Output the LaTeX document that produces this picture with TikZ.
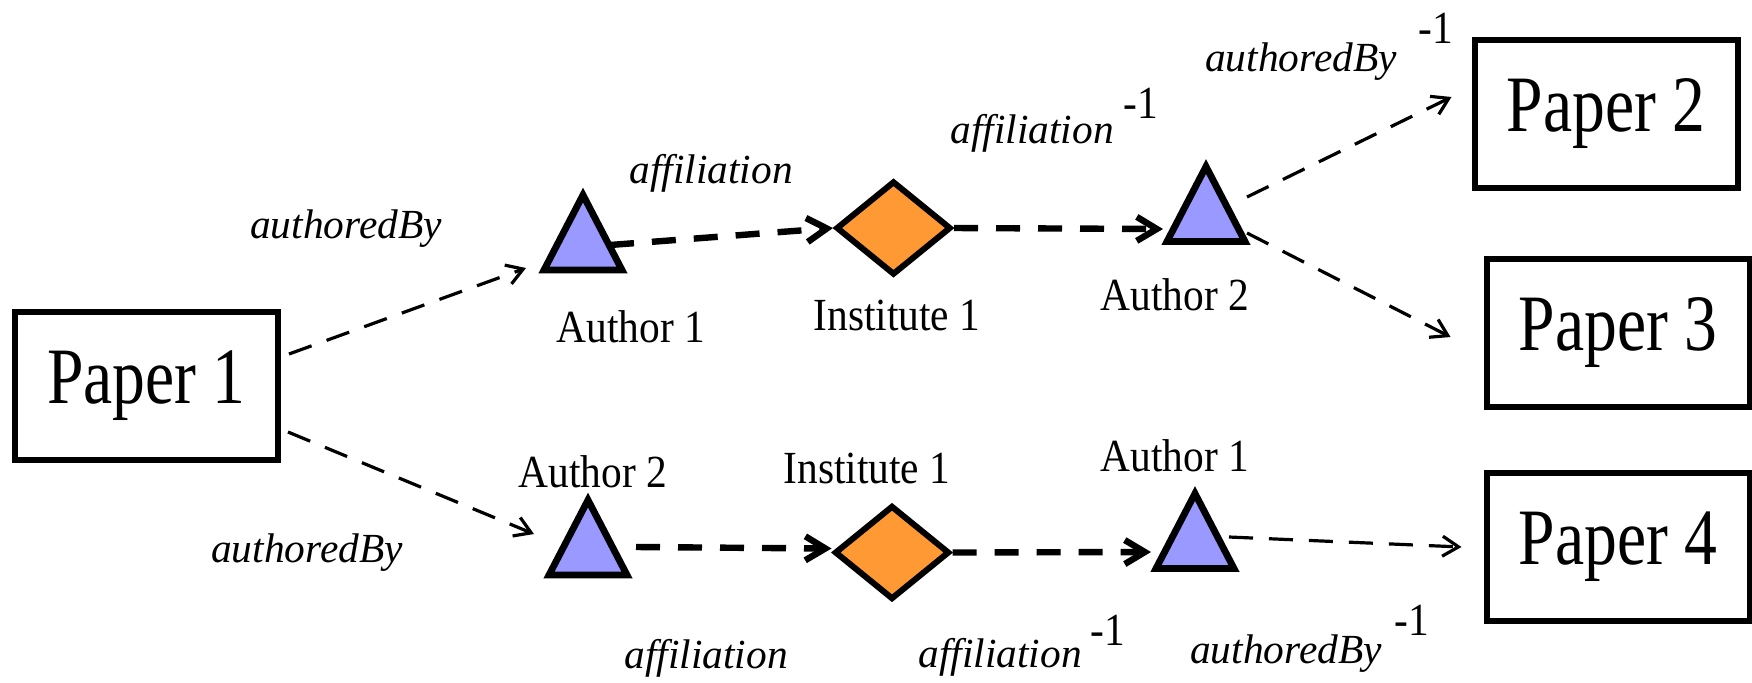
\documentclass[tikz,border=0pt]{standalone}
\usepackage{fontspec}
\setmainfont{Liberation Serif}
\newfontfamily\uprightlabel[FakeStretch=0.9]{Liberation Serif}
\newfontfamily\paperlabel[FakeStretch=0.82]{Liberation Serif}
\usetikzlibrary{shapes.geometric,arrows.meta,calc}

\definecolor{authorblue}{RGB}{153,153,255}
\definecolor{instorange}{RGB}{255,153,51}

\tikzset{
  paperbox/.style={draw, line width=3pt, minimum width=131.5pt, minimum height=74pt,
    inner sep=0pt, font=\paperlabel\fontsize{40}{44}\selectfont},
  institute/.style={diamond, draw, line width=3pt, fill=instorange,
    minimum width=57.5pt, minimum height=47pt, inner sep=0pt},
  authortri/.style={draw, line width=3.4pt, fill=authorblue, line join=miter},
  thinedge/.style={line width=1.6pt, dash pattern=on 12pt off 8pt,
    -{Straight Barb[length=8pt,width=10pt]}},
  thickedge/.style={line width=3.2pt, dash pattern=on 12pt off 9pt,
    -{Straight Barb[length=10pt,width=12pt]}},
  relation/.style={anchor=base, inner sep=0pt, font=\itshape\fontsize{20.7}{24}\selectfont},
  caption/.style={anchor=base, inner sep=0pt, font=\uprightlabel\fontsize{23}{27}\selectfont},
}

% author marker: an upright triangle centred on a named coordinate
\newcommand\authormark[1]{%
  \draw[authortri] ($(#1)+(0,-37.5)$) -- ($(#1)+(39,37.5)$) -- ($(#1)+(-39,37.5)$) -- cycle;}

\begin{document}
\begin{tikzpicture}[x=0.5pt,y=-0.5pt]
  \path[use as bounding box] (0,0) rectangle (1752,682);

  % papers
  \node[paperbox] (p1) at (146.5,385.5) {Paper 1};
  \node[paperbox] (p2) at (1606,114) {Paper 2};
  \node[paperbox] (p3) at (1618,333) {Paper 3};
  \node[paperbox] (p4) at (1618,546.5) {Paper 4};

  % institutes
  \node[institute] (ia) at (893.5,228) {};
  \node[institute] (ib) at (892,552.5) {};

  % author positions
  \coordinate (ta1) at (583,232.5);
  \coordinate (ta2) at (1206,204);
  \coordinate (tb2) at (588,537.5);
  \coordinate (tb1) at (1195,531);

  % upper path
  \draw[thinedge] ($(p1.east)+(8,-31.5)$) -- ($(ta1)+(-57,35.5)$);
  \draw[thickedge] ($(ta1)+(27,12.5)$) -- (ia.west);
  \draw[thickedge] (ia.east) -- ($(ta2)+(-43,25)$);
  \draw[thinedge] ($(ta2)+(41,-7)$) -- ($(p2.west)+(-20,-17)$);
  \draw[thinedge] ($(ta2)+(41,29)$) -- ($(p3.west)+(-33,4)$);

  % lower path
  \draw[thinedge] ($(p1.east)+(7,46.5)$) -- ($(tb2)+(-54,-3.5)$);
  \draw[thickedge] ($(tb2)+(48,9.5)$) -- ($(ib.west)+(0,-4)$);
  \draw[thickedge] (ib.east) -- ($(tb1)+(-44,21)$);
  \draw[thinedge] ($(tb1)+(34,6)$) -- ($(p4.west)+(-22,0.5)$);

  % authors
  \authormark{ta1}
  \authormark{ta2}
  \authormark{tb2}
  \authormark{tb1}

  % labels, upper path
  \node[relation] (r1) at (346,238) {authoredBy};
  \node[caption]  (c1) at (631,342) {Author 1};
  \node[relation] (r2) at (711,183) {affiliation};
  \node[caption]  (c2) at (897,330) {Institute 1};
  \node[relation] (r3) at (1032,143) {affiliation};
  \node[caption]  (s3) at (1141,118) {-1};
  \node[caption]  (c3) at (1175,310) {Author 2};
  \node[relation] (r4) at (1301,71) {authoredBy};
  \node[caption]  (s4) at (1436,43) {-1};

  % labels, lower path
  \node[relation] (r5) at (307,562) {authoredBy};
  \node[caption]  (c4) at (593,487) {Author 2};
  \node[caption]  (c5) at (867,483) {Institute 1};
  \node[caption]  (c6) at (1175,471) {Author 1};
  \node[relation] (r6) at (706,668) {affiliation};
  \node[relation] (r7) at (1000,667) {affiliation};
  \node[caption]  (s7) at (1108,645) {-1};
  \node[relation] (r8) at (1286,663) {authoredBy};
  \node[caption]  (s8) at (1412,635) {-1};
\end{tikzpicture}
\end{document}
